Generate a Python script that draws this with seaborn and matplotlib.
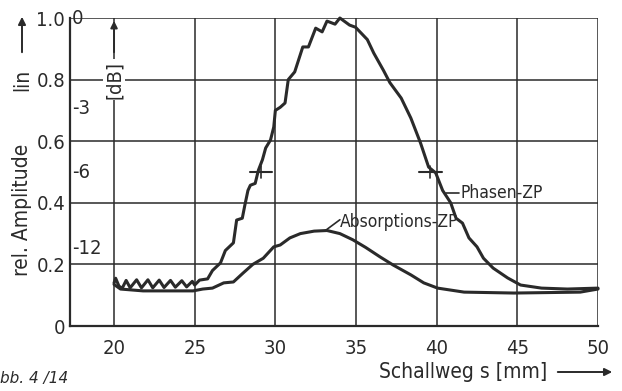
import matplotlib
matplotlib.use("Agg")
import matplotlib.pyplot as plt
from matplotlib import font_manager as fm
import matplotlib.patches as mpatches
import seaborn as sns
import pandas as pd

# ---- data ----
phase_x = [20.0, 20.1, 20.3, 20.5, 20.75, 21.0, 21.4, 21.7, 22.1, 22.4, 22.8, 23.1, 23.5,
           23.8, 24.2, 24.5, 24.85, 25.0, 25.3, 25.8, 26.1, 26.6, 26.9, 27.4, 27.6, 27.95,
           28.1, 28.3, 28.45, 28.75, 28.95, 29.2, 29.4, 29.7, 29.9, 30.0, 30.3, 30.6, 30.8,
           31.2, 31.7, 32.05, 32.5, 32.9, 33.2, 33.7, 34.0, 34.6, 34.97, 35.7, 36.1, 36.7,
           37.1, 37.8, 38.4, 39.0, 39.5, 39.94, 40.37, 40.87, 41.2, 41.6, 42.0, 42.5, 42.9,
           43.5, 44.4, 45.2, 46.5, 48.1, 50.0]
phase_y = [0.140, 0.155, 0.130, 0.122, 0.148, 0.124, 0.150, 0.124, 0.150, 0.124, 0.149,
           0.125, 0.148, 0.126, 0.147, 0.127, 0.145, 0.133, 0.149, 0.153, 0.180, 0.205,
           0.245, 0.270, 0.344, 0.350, 0.390, 0.440, 0.457, 0.463, 0.506, 0.540, 0.578,
           0.604, 0.646, 0.700, 0.710, 0.724, 0.800, 0.825, 0.906, 0.906, 0.967, 0.955,
           0.990, 0.980, 1.000, 0.977, 0.970, 0.930, 0.886, 0.830, 0.790, 0.740, 0.675,
           0.594, 0.516, 0.497, 0.440, 0.400, 0.350, 0.334, 0.286, 0.257, 0.220, 0.188,
           0.156, 0.133, 0.123, 0.120, 0.123]
abs_x = [20.0, 20.4, 21.8, 24.9, 25.5, 26.1, 26.8, 27.4, 28.0, 28.6, 29.25, 29.9, 30.3,
         30.9, 31.55, 32.4, 33.2, 34.0, 34.8, 35.6, 36.5, 37.3, 38.4, 39.2, 40.06, 41.7,
         44.8, 48.9, 50.0]
abs_y = [0.135, 0.120, 0.114, 0.114, 0.120, 0.123, 0.140, 0.143, 0.172, 0.200, 0.220,
         0.257, 0.263, 0.286, 0.300, 0.308, 0.310, 0.300, 0.280, 0.255, 0.224, 0.198,
         0.166, 0.140, 0.123, 0.110, 0.107, 0.110, 0.120]
half_marks_x = [29.1, 39.6]
half_level = 0.5
x_ticks = [20, 25, 30, 35, 40, 45, 50]
y_ticks = [0, 0.2, 0.4, 0.6, 0.8, 1.0]
y_ticklabels = ["0", "0.2", "0.4", "0.6", "0.8", "1.0"]
db_pos = [1.0, 0.707, 0.5, 0.25]
db_labels = ["0", "-3", "-6", "-12"]

sns.set_style("white")

# look for a narrow sans font (the original uses a condensed DIN-like face)
narrow = None
for f in fm.fontManager.ttflist:
    nm = f.name.lower()
    if ("condensed" in nm or "narrow" in nm or f.stretch in ("condensed", "semi-condensed")) \
            and "serif" not in nm and "mono" not in nm and f.style == "normal" \
            and f.weight in (400, "normal", "regular"):
        narrow = f
        break
if narrow is not None:
    base_font = dict(family=[narrow.name, "DejaVu Sans"], stretch=narrow.stretch)
    scale = 1.0
else:
    base_font = dict(family=["DejaVu Sans"])
    scale = 0.82
plt.rcParams["font.family"] = base_font["family"]
if "stretch" in base_font:
    plt.rcParams["font.stretch"] = base_font["stretch"]

fs_tick = 14.5 * scale
fs_lab = 15 * scale
fs_curve = 12.5 * scale

df = pd.concat([
    pd.DataFrame({"s": phase_x, "amp": phase_y, "kurve": "Phasen-ZP"}),
    pd.DataFrame({"s": abs_x, "amp": abs_y, "kurve": "Absorptions-ZP"}),
])

fig = plt.figure(figsize=(6.22, 3.91), dpi=100)
ax = fig.add_axes([70/622, 1-326/391, (598-70)/622, (326-18)/391])

ink = "#2a2a2a"
sns.lineplot(data=df, x="s", y="amp", units="kurve", estimator=None, color=ink,
             linewidth=2.2, ax=ax, legend=False, clip_on=False)

ax.set_xlim(17.27, 50)
ax.set_ylim(0, 1.0)

for gx in x_ticks:
    ax.axvline(gx, color=ink, lw=1.1, zorder=0)
for gy in y_ticks[1:]:
    ax.axhline(gy, color=ink, lw=1.1, zorder=0)

for side in ["top", "right"]:
    ax.spines[side].set_visible(False)
for side in ["left", "bottom"]:
    ax.spines[side].set_color(ink)
    ax.spines[side].set_linewidth(1.6)

ax.set_xticks(x_ticks)
ax.set_xticklabels([str(t) for t in x_ticks])
ax.set_yticks(y_ticks)
ax.set_yticklabels(y_ticklabels)
ax.set_yticks([0.1, 0.3, 0.5, 0.7, 0.9], minor=True)
ax.tick_params(axis="x", direction="out", length=4, width=1.2, color=ink,
               labelsize=fs_tick, pad=5, labelcolor=ink)
ax.tick_params(axis="y", which="major", direction="out", length=3, width=1.2, color=ink,
               labelsize=fs_tick, pad=0.5, labelcolor=ink)
ax.tick_params(axis="y", which="minor", direction="out", length=3, width=1.2, color=ink)
ax.set_xlabel("")
ax.set_ylabel("")

tr = ax.get_yaxis_transform()
for p, lab in zip(db_pos, db_labels):
    ax.text(0.004, p, lab, transform=tr, ha="left", va="center", fontsize=fs_tick,
            color=ink, clip_on=False)

for hx in half_marks_x:
    ax.plot([hx - 0.7, hx + 0.7], [half_level, half_level], color=ink, lw=1.5, clip_on=False)
    ax.plot([hx, hx], [half_level - 0.02, half_level + 0.02], color=ink, lw=1.2)

ax.plot([40.6, 41.4], [0.432, 0.432], color=ink, lw=1.2)
ax.text(41.45, 0.432, "Phasen-ZP", ha="left", va="center", fontsize=fs_curve, color=ink)
ax.plot([33.1, 34.0], [0.31, 0.345], color=ink, lw=1.2)
ax.text(34.0, 0.338, "Absorptions-ZP", ha="left", va="center", fontsize=fs_curve, color=ink)

ax.text(20, 0.80, "[dB]", rotation=90, ha="center", va="center", fontsize=fs_tick,
        color=ink, bbox=dict(facecolor="white", edgecolor="none", pad=1.0))
ax.annotate("", xy=(20, 1.0), xytext=(20, 0.88),
            arrowprops=dict(arrowstyle="-|>", color=ink, lw=1.4, mutation_scale=10))

fig.text(22/622, 1-210/391, "rel. Amplitude", rotation=90, ha="center", va="center",
         fontsize=fs_lab, color=ink)
fig.text(22/622, 1-80/391, "lin", rotation=90, ha="center", va="center",
         fontsize=fs_lab, color=ink)
fig.patches.append(mpatches.FancyArrowPatch(
    (22/622, 1-55/391), (22/622, 1-14/391), transform=fig.transFigure,
    arrowstyle="-|>", mutation_scale=11, color=ink, lw=1.4))

fig.text(547/622, 1-372/391, "Schallweg s [mm]", ha="right", va="center",
         fontsize=fs_lab, color=ink)
fig.patches.append(mpatches.FancyArrowPatch(
    (555/622, 1-372/391), (615/622, 1-372/391), transform=fig.transFigure,
    arrowstyle="-|>", mutation_scale=11, color=ink, lw=1.4))

fig.text(0.0, 1-378/391, "bb. 4 /14", ha="left", va="center", fontsize=11,
         style="italic", color=ink, family="DejaVu Sans", stretch="normal")

fig.savefig("out.png", dpi=100, facecolor="white")
